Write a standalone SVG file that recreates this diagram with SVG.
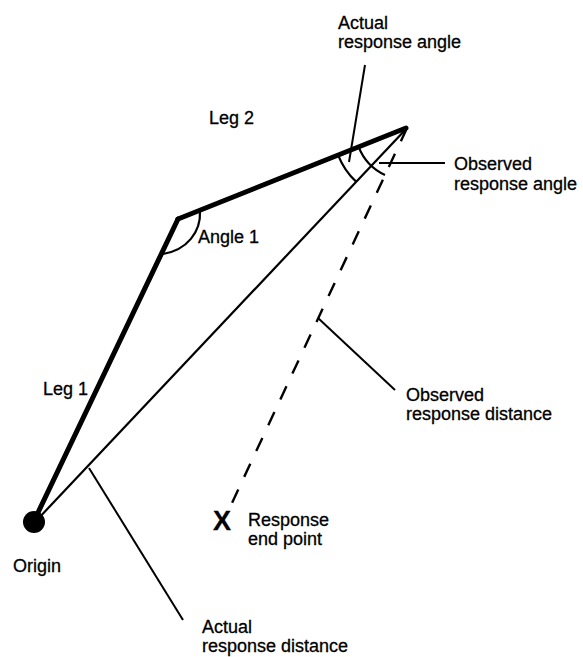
<svg xmlns="http://www.w3.org/2000/svg" width="583" height="657" viewBox="0 0 583 657">
<style>
  text { font-family: "Liberation Sans", Arial, Helvetica, sans-serif; font-size: 18px; fill: #000; stroke: #000; stroke-width: 0.3; }
  .thick { stroke: #000; stroke-width: 5; fill: none; stroke-linecap: round; stroke-linejoin: round; }
  .thin { stroke: #000; stroke-width: 2.2; fill: none; }
  .dash { stroke: #000; stroke-width: 2.4; fill: none; stroke-dasharray: 14.5 14; }
  .lead { stroke: #000; stroke-width: 2; fill: none; }
</style>
<rect width="583" height="657" fill="#fff"/>
<g id="connectors">
  <line class="thick" x1="34" y1="521" x2="178" y2="219"/>
  <line class="thick" x1="178" y1="219" x2="406" y2="128"/>
  <line class="thin" x1="36" y1="521" x2="407" y2="128"/>
  <line class="dash" x1="407" y1="128" x2="232" y2="503"/>
  <path class="thin" d="M200,211 C201,232 187,250 163,254"/>
  <path class="thin" d="M338.2,155.3 A74,74 0 0 0 356.2,181.8"/>
  <path class="thin" d="M358.7,147.2 A52,52 0 0 0 385,175.1"/>
  <line class="lead" x1="365" y1="65" x2="349" y2="162"/>
  <line class="lead" x1="379" y1="163" x2="445" y2="163"/>
  <line class="lead" x1="318" y1="318" x2="395" y2="390"/>
  <line class="lead" x1="89" y1="468" x2="183" y2="620"/>
</g>
<g id="origin">
  <circle cx="34" cy="522" r="11" fill="#000"/>
  <text x="13" y="572">Origin</text>
</g>
<g id="leg1"><text x="43" y="395">Leg 1</text></g>
<g id="leg2"><text x="209" y="124">Leg 2</text></g>
<g id="angle1"><text x="198" y="243">Angle 1</text></g>
<g id="actual-angle">
  <text x="338" y="29">Actual</text>
  <text x="338" y="48">response angle</text>
</g>
<g id="observed-angle">
  <text x="454" y="170">Observed</text>
  <text x="454" y="189.5">response angle</text>
</g>
<g id="observed-distance">
  <text x="406" y="401">Observed</text>
  <text x="406" y="420">response distance</text>
</g>
<g id="endpoint">
  <text x="213" y="530" style="font-size:27px;font-weight:bold">X</text>
  <text x="248" y="526">Response</text>
  <text x="248" y="545">end point</text>
</g>
<g id="actual-distance">
  <text x="202" y="633">Actual</text>
  <text x="202" y="652">response distance</text>
</g>
</svg>
